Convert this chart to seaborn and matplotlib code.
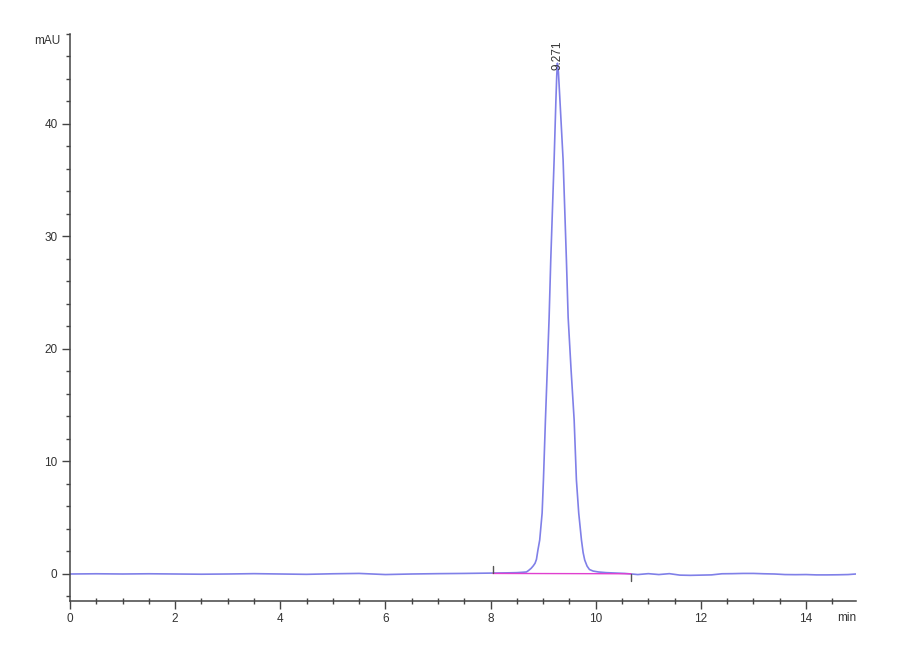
import pandas as pd
import matplotlib
matplotlib.use("Agg")
import matplotlib.pyplot as plt
from matplotlib.ticker import MultipleLocator
import seaborn as sns

# retention time (min) and detector signal (mAU)
time = [0.0, 0.5, 1.0, 1.5, 2.0, 2.5, 3.0, 3.5, 4.0, 4.5, 5.0, 5.5, 6.0, 6.5,
        7.0, 7.5, 8.0, 8.3, 8.5, 8.6, 8.681, 8.719, 8.77, 8.809, 8.845,
        8.872, 8.900, 8.934, 8.980, 9.005, 9.043, 9.078, 9.113, 9.144,
        9.208, 9.242, 9.258, 9.271, 9.290, 9.319, 9.379, 9.442, 9.475,
        9.53, 9.589, 9.632, 9.676, 9.728, 9.760, 9.790, 9.835, 9.880, 9.95,
        10.05, 10.2, 10.4, 10.55, 10.68, 10.8, 11.0, 11.2, 11.4, 11.6, 11.8,
        12.0, 12.2, 12.4, 12.6, 12.8, 13.0, 13.2, 13.4, 13.6, 13.8, 14.0,
        14.2, 14.4, 14.6, 14.8, 14.95]
signal = [0.0, 0.02, 0.0, 0.02, 0.0, -0.02, 0.0, 0.03, 0.0, -0.03, 0.02, 0.05,
          -0.05, 0.0, 0.03, 0.05, 0.08, 0.1, 0.12, 0.15, 0.18, 0.3, 0.5, 0.71,
          0.95, 1.3, 2.13, 3.02, 5.42, 8.36, 13.7, 18.2, 22.8, 27.9, 36.8,
          42.1, 44.3, 45.4, 44.6, 42.1, 36.8, 27.9, 22.8, 18.2, 13.7, 8.36,
          5.42, 3.02, 1.9, 1.24, 0.7, 0.4, 0.26, 0.18, 0.12, 0.08, 0.05, 0.0,
          -0.05, 0.03, -0.05, 0.03, -0.1, -0.12, -0.1, -0.08, 0.02, 0.03, 0.05,
          0.05, 0.02, 0.0, -0.05, -0.06, -0.05, -0.08, -0.08, -0.07, -0.05, 0.0]

# integration baseline of the peak
base_time = [8.04, 10.67]
base_signal = [0.05, 0.02]
peak_rt = 9.271
peak_height = 45.4

df = pd.DataFrame({"time": time, "signal": signal})
base = pd.DataFrame({"time": base_time, "signal": base_signal})

sns.set_style("ticks")
plt.rcParams["font.family"] = ["Liberation Sans", "DejaVu Sans"]

fig = plt.figure(figsize=(9, 6.6), dpi=100)
ax = fig.add_axes([0.0778, 0.0894, 0.8733, 0.8591])

sns.lineplot(data=df, x="time", y="signal", ax=ax, color="#8080e8",
             linewidth=1.2, estimator=None)
sns.lineplot(data=base, x="time", y="signal", ax=ax, color="#e040d0",
             linewidth=1.0, estimator=None)

# baseline start / end markers
ax.plot([base_time[0], base_time[0]], [base_signal[0], 0.7], color="#555555", lw=1)
ax.plot([base_time[1], base_time[1]], [base_signal[1], -0.6], color="#555555", lw=1)

ax.text(peak_rt, peak_height - 0.6, f"{peak_rt:.3f}", rotation=90, ha="center",
        va="bottom", fontsize=8.5, color="#333333", clip_on=False)

ax.set_xlim(0, 14.95)
ax.set_ylim(-2.4, 48)
ax.set_xlabel("")
ax.set_ylabel("")

ax.xaxis.set_major_locator(MultipleLocator(2))
ax.xaxis.set_minor_locator(MultipleLocator(0.5))
ax.yaxis.set_major_locator(MultipleLocator(10))
ax.yaxis.set_minor_locator(MultipleLocator(2))

for s in ["top", "right"]:
    ax.spines[s].set_visible(False)
for s in ["left", "bottom"]:
    ax.spines[s].set_color("#444444")
    ax.spines[s].set_linewidth(1.1)

ax.tick_params(axis="both", which="major", length=6, width=1, color="#444444",
               labelsize=8.5, labelcolor="#333333", pad=3)
ax.tick_params(axis="both", which="minor", length=3, width=1, color="#444444")
ax.tick_params(axis="x", which="minor", direction="inout", length=4)

ax.annotate("mAU", xy=(0, 47.4), xycoords=("axes fraction", "data"),
            xytext=(-10, 0), textcoords="offset pixels", ha="right", va="center",
            fontsize=8.5, color="#333333")
ax.annotate("min", xy=(1, 0), xycoords="axes fraction", xytext=(0, -17),
            textcoords="offset pixels", ha="right", va="center",
            fontsize=8.5, color="#333333")

fig.savefig("out.png", dpi=100)
